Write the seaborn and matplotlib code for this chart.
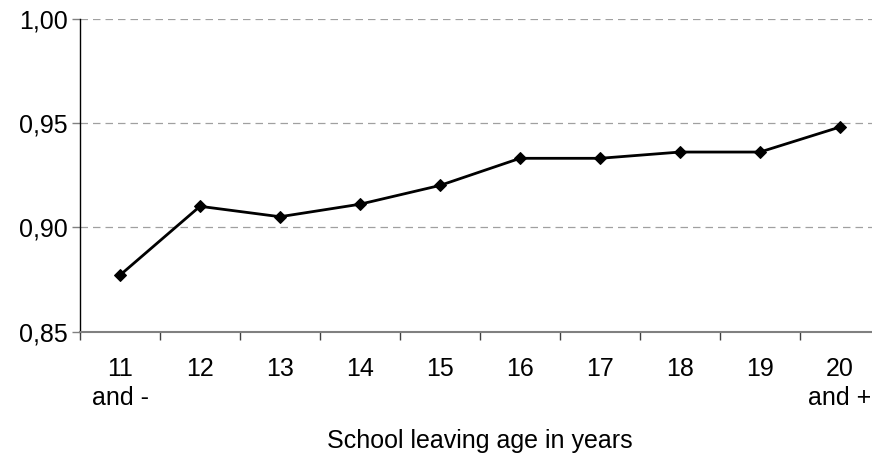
import numpy as np
import pandas as pd
import seaborn as sns
import matplotlib.pyplot as plt

# -------------------- Data --------------------

categories = ['11\nand -', '12', '13', '14', '15', '16', '17', '18', '19', '20\nand +']
ratio = [0.877, 0.910, 0.905, 0.911, 0.920, 0.933, 0.933, 0.936, 0.936, 0.948]
y_ticks = [0.85, 0.90, 0.95, 1.00]
y_tick_labels = ['0,85', '0,90', '0,95', '1,00']
x_label = 'School leaving age in years'


def main():
    df = pd.DataFrame({'pos': np.arange(len(categories)), 'ratio': ratio})

    sns.set_style('white')
    plt.rcParams['font.family'] = ['Liberation Sans', 'DejaVu Sans']
    plt.rcParams['text.color'] = 'black'
    plt.rcParams['xtick.color'] = 'black'
    plt.rcParams['ytick.color'] = 'black'
    plt.rcParams['axes.labelcolor'] = 'black'

    fig = plt.figure(figsize=(8.72, 4.61), dpi=100)
    # axes run past the right edge, like the cropped original
    ax = fig.add_axes([80 / 872, 129.5 / 461, 800 / 872, 313 / 461])

    sns.lineplot(data=df, x='pos', y='ratio', ax=ax, color='black',
                 linewidth=2, marker='D', markersize=6.5,
                 markeredgecolor='black', zorder=3)

    ax.set_xlim(-0.5, len(categories) - 0.5)
    ax.set_ylim(0.85, 1.00)

    ax.set_yticks(y_ticks)
    ax.set_yticklabels(y_tick_labels, fontsize=18)
    ax.set_xticks(np.arange(len(categories)))
    ax.set_xticklabels(categories, fontsize=18, linespacing=1.28)
    ax.set_xticks(np.arange(len(categories) + 1) - 0.5, minor=True)

    ax.tick_params(axis='x', which='major', length=0, pad=18, bottom=False)
    ax.tick_params(axis='x', which='minor', length=6, width=1,
                   color='#404040', direction='out', bottom=True)
    ax.tick_params(axis='y', length=6, width=1, color='#808080',
                   direction='out', pad=3, left=True)

    ax.yaxis.grid(True, color='#a0a0a0', linestyle=(0, (6, 4)), linewidth=0.9)
    ax.xaxis.grid(False)

    for side in ['top', 'right']:
        ax.spines[side].set_visible(False)
    ax.spines['left'].set_color('black')
    ax.spines['left'].set_linewidth(1)
    ax.spines['bottom'].set_color('#808080')
    ax.spines['bottom'].set_linewidth(1.5)

    ax.set_xlabel(x_label, fontsize=18, labelpad=14)
    ax.set_ylabel('')

    fig.savefig('out.png', dpi=100)


if __name__ == '__main__':
    main()
